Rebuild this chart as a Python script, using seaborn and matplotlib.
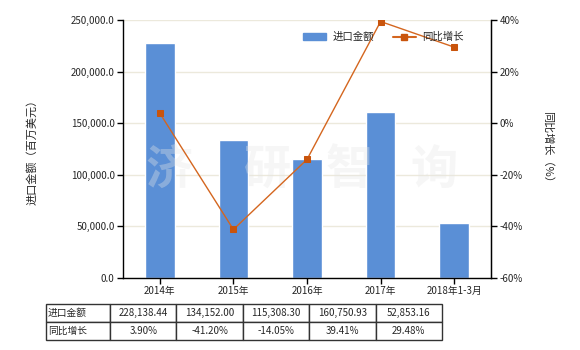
import matplotlib
matplotlib.use("Agg")
import matplotlib.pyplot as plt
import seaborn as sns
import pandas as pd
from matplotlib.patches import Patch
from matplotlib.lines import Line2D
from matplotlib.ticker import FuncFormatter

categories = ["2014年", "2015年", "2016年", "2017年", "2018年1-3月"]
import_values = [228138.44, 134152.00, 115308.30, 160750.93, 52853.16]
growth_pct = [3.90, -41.20, -14.05, 39.41, 29.48]
import_labels = ["228,138.44", "134,152.00", "115,308.30", "160,750.93", "52,853.16"]
growth_labels = ["3.90%", "-41.20%", "-14.05%", "39.41%", "29.48%"]
series_names = ["进口金额", "同比增长"]

sns.set_style("white")
plt.rcParams['font.family'] = ['Noto Sans CJK SC', 'DejaVu Sans']
plt.rcParams['axes.unicode_minus'] = False

bar_color = "#5a8fd6"
line_color = "#d4661f"
marker_color = "#c9540c"
grid_color = "#ece9dc"

df = pd.DataFrame({"cat": categories, "val": import_values, "g": growth_pct})

fig = plt.figure(figsize=(5.8, 3.5), dpi=100)
ax = fig.add_axes([123/580, 1-278/350, (491-123)/580, (278-20)/350])

sns.barplot(data=df, x="cat", y="val", color=bar_color, width=0.4, ax=ax, saturation=1)
ax.set_ylim(0, 250000)
ax.set_yticks(range(0, 250001, 50000))
ax.yaxis.set_major_formatter(FuncFormatter(lambda v, p: f"{v:,.1f}"))
ax.set_xlabel("")
ax.set_ylabel("进口金额（百万美元）", fontsize=8, labelpad=24)
ax.yaxis.grid(True, color=grid_color, linewidth=1)
ax.set_axisbelow(True)
for s in ["left", "bottom", "right"]:
    ax.spines[s].set_color("black")
    ax.spines[s].set_linewidth(1)
ax.spines["top"].set_visible(False)
ax.tick_params(axis="both", labelsize=7, length=4, width=1, color="black", direction="out", pad=2)
ax.tick_params(axis="y", left=True)
ax.tick_params(axis="x", bottom=True)

# watermark
for xi, ch in zip([0.06, 0.33, 0.55, 0.78], ["济", "研", "智", "询"]):
    ax.text(xi, 0.42, ch, transform=ax.transAxes, fontsize=34, color="#e6e6e6",
            alpha=0.35, ha="left", va="center", zorder=1, fontweight="bold")

ax2 = ax.twinx()
sns.lineplot(x=list(range(len(categories))), y=growth_pct, ax=ax2, color=line_color,
             linewidth=1, marker="s", markersize=5, markerfacecolor=marker_color,
             markeredgecolor=marker_color)
ax.set_xlim(-0.5, len(categories) - 0.5)
ax2.set_xlim(-0.5, len(categories) - 0.5)
ax2.set_ylim(-60, 40)
ax2.set_yticks(range(-60, 41, 20))
ax2.yaxis.set_major_formatter(FuncFormatter(lambda v, p: f"{v:.0f}%"))
ax2.set_ylabel("同比增长（%）", fontsize=8, rotation=270, labelpad=22)
for s in ["left", "top", "bottom"]:
    ax2.spines[s].set_visible(False)
ax2.spines["right"].set_color("black")
ax2.tick_params(axis="y", labelsize=7, length=4, width=1, color="black", direction="out", pad=2, right=True)

handles = [Patch(facecolor=bar_color, edgecolor=bar_color),
           Line2D([0], [0], color=line_color, lw=1.5, marker="s", markersize=4,
                  markerfacecolor=marker_color, markeredgecolor=marker_color)]
ax2.legend(handles, series_names, loc="upper left", bbox_to_anchor=(0.465, 0.99),
           ncol=2, frameon=False, fontsize=7.5, handlelength=2.2, columnspacing=1.8,
           handletextpad=0.6)

# data table
tax = fig.add_axes([46/580, 1-340/350, (442-46)/580, 36/350])
tax.axis("off")
cell_text = [[series_names[0]] + import_labels, [series_names[1]] + growth_labels]
col_w = [64] + [66.4] * 5
tot = sum(col_w)
tbl = tax.table(cellText=cell_text, colWidths=[w/tot for w in col_w], bbox=[0, 0, 1, 1],
                cellLoc="center")
tbl.auto_set_font_size(False)
for (r, c), cell in tbl.get_celld().items():
    cell.set_fontsize(7)
    cell.set_edgecolor("#333333")
    cell.set_linewidth(1)
    if c == 0:
        cell.get_text().set_ha("left")
        cell.PAD = 0.03

fig.savefig("out.png", dpi=100)
